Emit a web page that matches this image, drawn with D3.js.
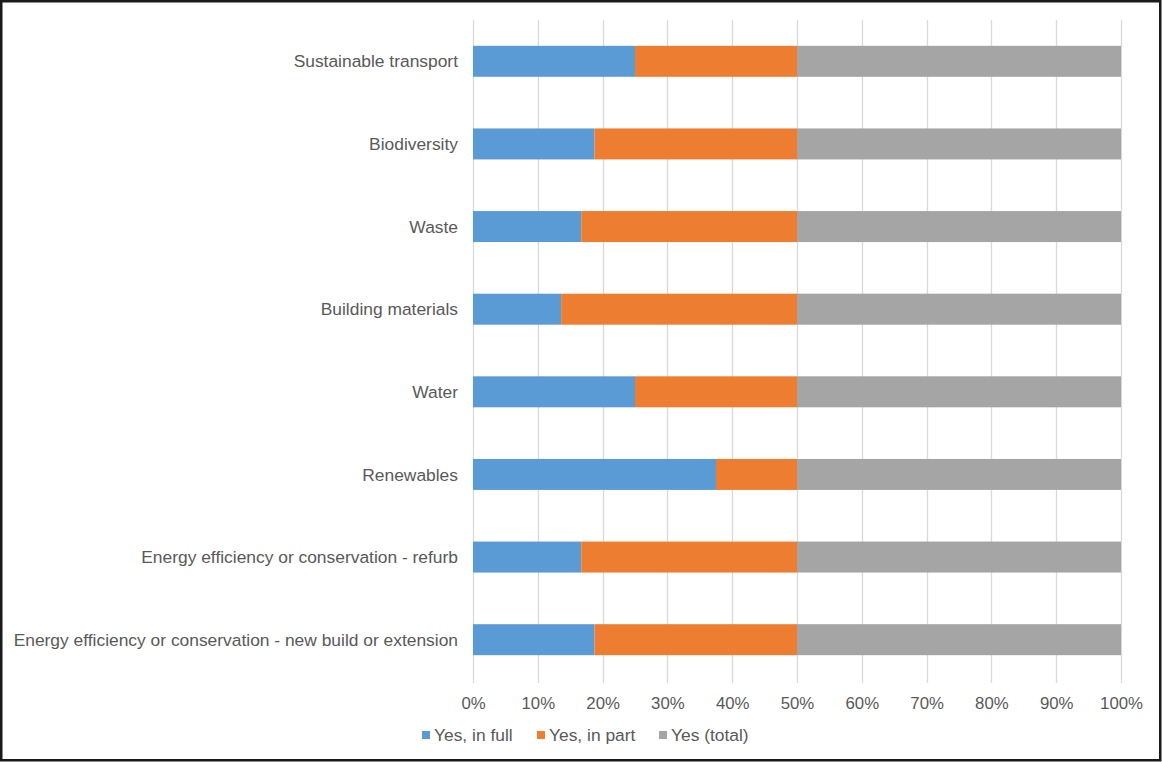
<!DOCTYPE html>
<html>
<head>
<meta charset="utf-8">
<script src="https://cdn.jsdelivr.net/npm/d3@7"></script>
<style>
  html, body { margin: 0; padding: 0; background: #fff; }
  svg { display: block; }
  text { font-family: "Liberation Sans", Arial, sans-serif; fill: #595959; }
</style>
</head>
<body>
<svg id="chart" width="1162" height="762"></svg>
<script>
// Categories, top to bottom
const categories = [
  "Sustainable transport",
  "Biodiversity",
  "Waste",
  "Building materials",
  "Water",
  "Renewables",
  "Energy efficiency or conservation - refurb",
  "Energy efficiency or conservation - new build or extension"
];

// Share of respondents (%)
const yesInFull = [25, 18.75, 16.7, 13.6, 25, 37.5, 16.7, 18.75];
const yesInPart = [25, 31.25, 33.3, 36.4, 25, 12.5, 33.3, 31.25];
const yesTotal  = [50, 50, 50, 50, 50, 50, 50, 50];

const seriesNames  = ["Yes, in full", "Yes, in part", "Yes (total)"];
const seriesColors = ["#5B9BD5", "#ED7D31", "#A5A5A5"];
const xTicks = [0, 10, 20, 30, 40, 50, 60, 70, 80, 90, 100];

const svg = d3.select("#chart");
const W = 1162, H = 762;

// Outer frame
svg.append("rect")
  .attr("x", 1.25).attr("y", 1.25).attr("width", W - 3).attr("height", H - 3)
  .attr("fill", "#fff").attr("stroke", "#1a1a1a").attr("stroke-width", 2.5);

const plot = { left: 473, right: 1121, top: 20, bottom: 681 };

const x = d3.scaleLinear().domain([0, 100]).range([plot.left, plot.right]);
const y = d3.scaleBand().domain(categories)
  .range([plot.top, plot.bottom])
  .paddingInner(0.625).paddingOuter(0.3125);

// Stacked rows normalised to 100%
const rows = categories.map((c, i) => {
  const vals = [yesInFull[i], yesInPart[i], yesTotal[i]];
  const sum = d3.sum(vals);
  return { cat: c, v0: vals[0] / sum * 100, v1: vals[1] / sum * 100, v2: vals[2] / sum * 100 };
});
const stack = d3.stack().keys(["v0", "v1", "v2"])(rows);

// Gridlines
const grid = svg.append("g");
grid.selectAll("line").data(xTicks).join("line")
  .attr("x1", d => Math.round(x(d)) + 0.5).attr("x2", d => Math.round(x(d)) + 0.5)
  .attr("y1", plot.top).attr("y2", plot.bottom + 2)
  .attr("stroke", "#d9d9d9").attr("stroke-width", 1.3);

// Bars
svg.append("g").selectAll("g").data(stack).join("g")
  .attr("fill", (d, i) => seriesColors[i])
  .selectAll("rect").data(d => d).join("rect")
  .attr("x", d => x(d[0]))
  .attr("width", d => x(d[1]) - x(d[0]))
  .attr("y", d => y(d.data.cat))
  .attr("height", y.bandwidth());

// Category labels
svg.append("g").selectAll("text").data(categories).join("text")
  .attr("x", 458)
  .attr("y", d => y(d) + y.bandwidth() / 2)
  .attr("dy", "0.35em")
  .attr("text-anchor", "end")
  .attr("font-size", 17.4)
  .text(d => d);

// X axis tick labels
const xAxis = d3.axisBottom(x).tickValues(xTicks).tickFormat(d => d + "%").tickSize(0).tickPadding(0);
const gx = svg.append("g").attr("transform", `translate(0,${plot.bottom})`).call(xAxis);
gx.select(".domain").remove();
gx.selectAll("text")
  .attr("y", 22).attr("dy", "0.35em")
  .attr("font-size", 16.8)
  .attr("font-family", null)
  .attr("fill", "#595959");

// Legend
const legendX = [422, 537, 659];
const legend = svg.append("g");
seriesNames.forEach((name, i) => {
  legend.append("rect")
    .attr("x", legendX[i]).attr("y", 731)
    .attr("width", 8).attr("height", 8)
    .attr("fill", seriesColors[i]);
  legend.append("text")
    .attr("x", legendX[i] + 12).attr("y", 735)
    .attr("dy", "0.35em")
    .attr("font-size", 17.4)
    .text(name);
});
</script>
</body>
</html>
